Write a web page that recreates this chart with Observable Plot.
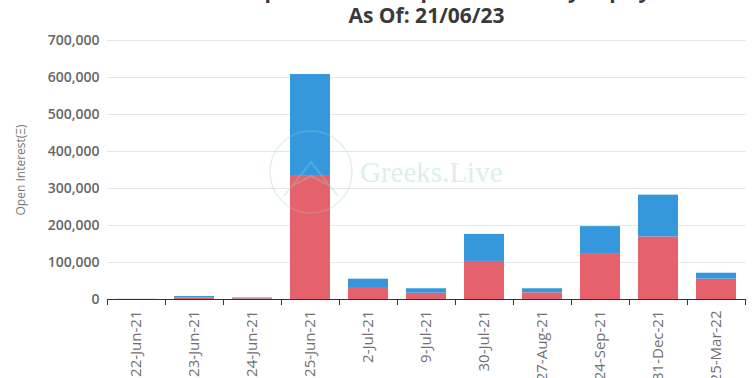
<!DOCTYPE html>
<html>
<head>
<meta charset="utf-8">
<script src="https://cdn.jsdelivr.net/npm/d3@7"></script>
<script src="https://cdn.jsdelivr.net/npm/@observablehq/plot@0.6"></script>
<style>
  html, body { margin: 0; padding: 0; background: #fff; overflow: hidden; }
  #wrap { position: relative; width: 754px; height: 378px; overflow: hidden; font-family: "Open Sans", sans-serif; }
  #title { height: 30px; position: relative; overflow: hidden; }
  #title div { position: absolute; left: 107px; width: 639px; text-align: center; font-weight: 700; font-size: 21px; line-height: 24px; color: #3a3a3a; white-space: nowrap; }
  #wm { position: absolute; left: 0; top: 0; pointer-events: none; }
</style>
</head>
<body>
<div id="wrap">
  <div id="title">
    <div style="top:-22px">ETH Option Deribit Open Interest by Expiry</div>
    <div style="top:3px">As Of: 21/06/23</div>
  </div>
  <div id="chart"></div>
  <svg id="wm" width="754" height="378">
    <g opacity="0.3">
      <circle cx="311" cy="172" r="41" fill="none" stroke="#9fd3cc" stroke-width="1.5"/>
      <path d="M284 196 L311 162 L338 196 M292 186 L311 176 L330 186" fill="none" stroke="#9fd3cc" stroke-width="2"/>
      <text x="360" y="182" font-family="Liberation Serif, DejaVu Serif, serif" font-size="29" fill="#8ecbc3">Greeks.Live</text>
    </g>
  </svg>
</div>
<script>
const expiries = ["22-Jun-21","23-Jun-21","24-Jun-21","25-Jun-21","2-Jul-21","9-Jul-21","30-Jul-21","27-Aug-21","24-Sep-21","31-Dec-21","25-Mar-22"];
const redValues  = [300, 4000, 2000, 335000, 30000, 17000, 103000, 18000, 122000, 169000, 55000];
const blueValues = [300, 4000, 2000, 273000, 25000, 12000, 73000, 11000, 75000, 113000, 16000];
const yTicks = [0, 100000, 200000, 300000, 400000, 500000, 600000, 700000];
const seriesNames = ["Put", "Call"];
const seriesColors = ["#e5616b", "#3598dc"];

const rows = [];
expiries.forEach((e, i) => {
  rows.push({expiry: e, series: seriesNames[0], value: redValues[i]});
  rows.push({expiry: e, series: seriesNames[1], value: blueValues[i]});
});

const W = 754, H = 348, mL = 107, mR = 8, mT = 10, mB = 79;
const step = (W - mL - mR) / expiries.length;

const chart = Plot.plot({
  width: W, height: H,
  marginLeft: mL, marginRight: mR, marginTop: mT, marginBottom: mB,
  style: {fontFamily: "Open Sans, sans-serif", background: "#fff"},
  x: {domain: expiries, paddingInner: 0.31, paddingOuter: 0.155, label: null},
  y: {domain: [0, 700000], label: null},
  color: {domain: seriesNames, range: seriesColors},
  marks: [
    Plot.gridY(yTicks, {stroke: "#e6e6e6", strokeOpacity: 1}),
    Plot.barY(rows, Plot.stackY({x: "expiry", y: "value", fill: "series", order: seriesNames})),
    Plot.ruleY([0], {stroke: "#333", strokeWidth: 1}),
    Plot.axisY(yTicks, {tickSize: 0, tickPadding: 8, tickFormat: d => d3.format(",")(d), fontSize: 14, fontWeight: 600, fill: "#666", label: null}),
    Plot.axisX({tickSize: 6, tickFormat: () => "", dx: -step / 2, stroke: "#333", label: null}),
    Plot.axisX([expiries[expiries.length - 1]], {tickSize: 6, tickFormat: () => "", dx: step / 2, stroke: "#333", label: null}),
    Plot.axisX({tickSize: 0, tickPadding: 11, tickRotate: -90, fontSize: 15, fill: "#707070", label: null}),
    Plot.text(["Open Interest(Ξ)"], {frameAnchor: "left", textAnchor: "middle", dx: -86, rotate: -90, fontSize: 12, fill: "#777"})
  ]
});
document.getElementById("chart").appendChild(chart);
</script>
</body>
</html>
